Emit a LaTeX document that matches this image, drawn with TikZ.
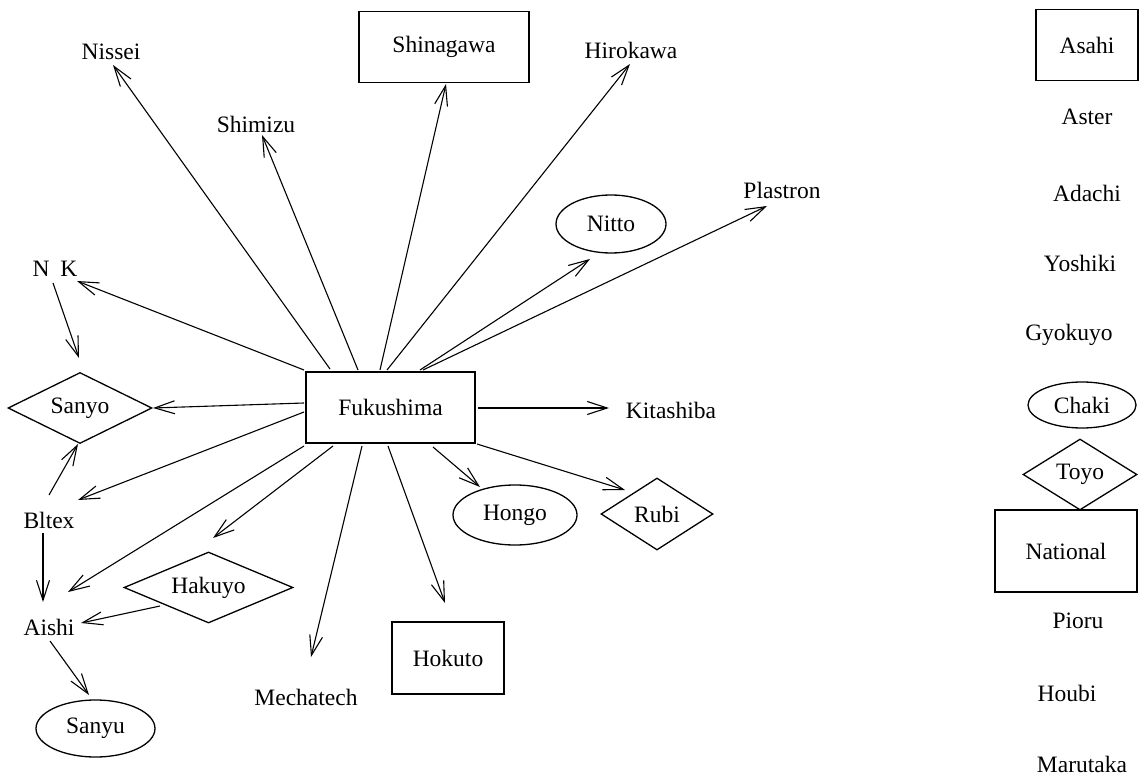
\documentclass[tikz,border=0pt]{standalone}
\usepackage{fontspec}
\setmainfont{Liberation Serif}
\usetikzlibrary{shapes.geometric,arrows.meta,calc}
\begin{document}
\begin{tikzpicture}[x=1pt,y=-1pt,
  every node/.style={font=\fontsize{23.5}{28}\selectfont, inner sep=0pt},
  boxnode/.style={draw, line width=1.3pt, rectangle},
  ovalnode/.style={draw, line width=1.3pt, ellipse},
  dianode/.style={draw, line width=1.3pt, diamond, aspect=2},
  link/.style={line width=1.1pt, -{Straight Barb[length=20pt,width=13pt]}},
]
\useasboundingbox (0,0) rectangle (1139,775);

% central company
\node[boxnode, minimum width=169pt, minimum height=71pt] (fuku) at (390.5,407.5) {Fukushima};

% partners around the centre
\node[boxnode, minimum width=170pt, minimum height=71pt] (shin) at (444,47) {Shinagawa};
\node (nissei) at (111,52) {Nissei};
\node (shimizu) at (256,124) {Shimizu};
\node (hirokawa) at (631,50) {Hirokawa};
\node (plastron) at (782,190) {Plastron};
\node[ovalnode, minimum width=110pt, minimum height=58pt] (nitto) at (611,224) {Nitto};
\node (nk) at (55,269) {N\hspace{0.45em}K};
\node[dianode, minimum width=144pt, minimum height=71pt] (sanyo) at (80,408) {Sanyo};
\node (kita) at (671,410) {Kitashiba};
\node[ovalnode, minimum width=124pt, minimum height=60pt] (hongo) at (515,515) {Hongo};
\node[dianode, minimum width=112pt, minimum height=72pt] (rubi) at (657,514) {Rubi};
\node (bltex) at (49,520) {Bltex};
\node (aishi) at (49,627) {Aishi};
\node[dianode, minimum width=169pt, minimum height=71pt] (hakuyo) at (208.5,587.5) {Hakuyo};
\node[ovalnode, minimum width=119pt, minimum height=57pt] (sanyu) at (95.5,728.5) {Sanyu};
\node (mecha) at (306,697) {Mechatech};
\node[boxnode, minimum width=112pt, minimum height=72pt] (hokuto) at (448,658) {Hokuto};

% unconnected companies
\node[boxnode, minimum width=102pt, minimum height=71pt] (asahi) at (1087,45) {Asahi};
\node (aster) at (1087,117) {Aster};
\node (adachi) at (1087,193) {Adachi};
\node (yoshiki) at (1080,263) {Yoshiki};
\node (gyokuyo) at (1069,335) {Gyokuyo};
\node[ovalnode, minimum width=108pt, minimum height=46pt] (chaki) at (1082,405) {Chaki};
\node[dianode, minimum width=114pt, minimum height=71pt] (toyo) at (1080,474.5) {Toyo};
\node[boxnode, minimum width=142pt, minimum height=82pt] (national) at (1066,551) {National};
\node (pioru) at (1078,621) {Pioru};
\node (houbi) at (1067,693) {Houbi};
\node (marutaka) at (1082,764) {Marutaka};

% links leaving Fukushima
\draw[link] ($(fuku)+(-60.5,-38.5)$) -- ($(nissei)+(2,13)$);
\draw[link] ($(fuku)+(-32.5,-37.5)$) -- ($(shimizu)+(6,11)$);
\draw[link] ($(fuku)+(-10.5,-37.5)$) -- ($(shin)+(2,37)$);
\draw[link] ($(fuku)+(-3.5,-37.5)$) -- ($(hirokawa)+(-1,14)$);
\draw[link] ($(fuku)+(29.5,-37.5)$) -- ($(nitto)+(-21,35)$);
\draw[link] ($(fuku)+(32.5,-37.5)$) -- ($(plastron)+(-15,16)$);
\draw[link] ($(fuku)+(-86.5,-37.5)$) -- ($(nk)+(22,12)$);
\draw[link] ($(fuku)+(-86.5,-4.5)$) -- ($(sanyo)+(73,0)$);
\draw[link] ($(fuku)+(-86.5,4.5)$) -- ($(bltex)+(29,-20)$);
\draw[link] ($(fuku)+(-86.5,38.5)$) -- ($(aishi)+(19,-35)$);
\draw[link] ($(fuku)+(-57.5,38.5)$) -- ($(hakuyo)+(4.5,-49.5)$);
\draw[link] ($(fuku)+(-28.5,38.5)$) -- ($(mecha)+(5,-40)$);
\draw[link] ($(fuku)+(-2.5,38.5)$) -- ($(hokuto)+(-3,-55)$);
\draw[link] ($(fuku)+(42.5,39.5)$) -- ($(hongo)+(-35,-28)$);
\draw[link] ($(fuku)+(86.5,36.5)$) -- ($(rubi)+(-32,-24)$);
\draw[link] ($(fuku)+(87.5,0.5)$) -- ($(kita)+(-62,-2)$);

% links among the left-hand group
\draw[link] ($(nk)+(-2,14)$) -- ($(sanyo)+(-1,-50)$);
\draw[link] ($(bltex)+(0,-25)$) -- ($(sanyo)+(-2,36)$);
\draw[link] ($(bltex)+(-6,13)$) -- ($(aishi)+(-6,-25)$);
\draw[link] ($(hakuyo)+(-48.5,18.5)$) -- ($(aishi)+(32,-4)$);
\draw[link] ($(aishi)+(1,14)$) -- ($(sanyu)+(-6.5,-33.5)$);
\end{tikzpicture}
\end{document}
